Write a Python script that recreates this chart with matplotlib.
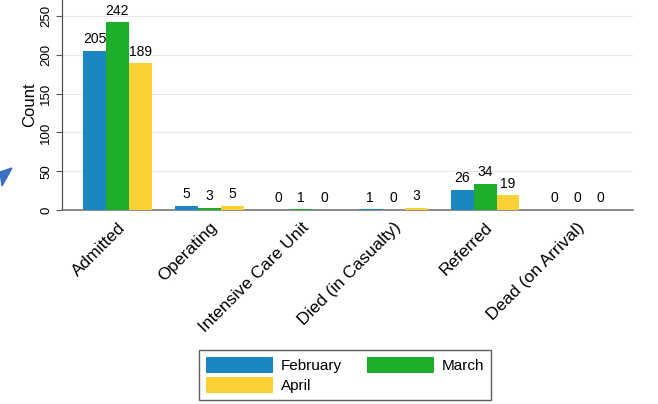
import matplotlib.pyplot as plt
import numpy as np
from matplotlib.patches import Polygon

plt.rcParams['font.family'] = ['Liberation Sans', 'DejaVu Sans']

categories = ["Admitted", "Operating", "Intensive Care Unit",
              "Died (in Casualty)", "Referred", "Dead (on Arrival)"]
february = [205, 5, 0, 1, 26, 0]
march = [242, 3, 1, 0, 34, 0]
april = [189, 5, 0, 3, 19, 0]
series = [("February", february, "#1b87c1"),
          ("March", march, "#1fae2a"),
          ("April", april, "#fdd133")]
yticks = [0, 50, 100, 150, 200, 250]

fig = plt.figure(figsize=(6.58, 4.04), dpi=100)
ax = fig.add_axes([62 / 658, 1 - 210 / 404, 571 / 658, 210 / 404])

x = np.arange(len(categories))
w = 0.25
for i, (name, vals, col) in enumerate(series):
    pos = x + (i - 1) * w
    ax.bar(pos, vals, width=w, color=col, label=name, zorder=3)
    for p, v in zip(pos, vals):
        ax.text(p, v + 6, str(v), ha='center', va='bottom', fontsize=10, zorder=4)

ax.set_xlim(-0.603, 5.61)
ax.set_ylim(0, 270.6)
ax.set_yticks(yticks)
ax.set_yticklabels([str(t) for t in yticks], rotation=90, va='center', fontsize=9.5)
ax.yaxis.grid(True, color='#e8e8e8', linewidth=0.9, zorder=0)
ax.set_ylabel("Count", fontsize=12, labelpad=2)

ax.set_xticks(x)
ax.set_xticklabels(categories, rotation=45, ha='right', rotation_mode='anchor', fontsize=12.5)
ax.tick_params(axis='x', length=0, pad=7)
ax.tick_params(axis='y', length=4, width=0.8, color='#555555', pad=3)

for s in ['top', 'right']:
    ax.spines[s].set_visible(False)
ax.spines['left'].set_color('#444444')
ax.spines['left'].set_linewidth(0.8)
ax.spines['bottom'].set_color('#777777')
ax.spines['bottom'].set_linewidth(1.2)

handles, labels = ax.get_legend_handles_labels()
order = [0, 2, 1]
leg = fig.legend([handles[k] for k in order], [labels[k] for k in order],
                 ncol=2, loc='center',
                 bbox_to_anchor=(345 / 658, 1 - 375 / 404),
                 fontsize=11, frameon=True, fancybox=False, edgecolor='#333333',
                 handlelength=4.4, handleheight=1.2, columnspacing=1.6,
                 handletextpad=0.5, borderpad=0.45, labelspacing=0.25)
leg.get_frame().set_linewidth(1.0)

# small blue marker at left edge of the image
tri = Polygon([[0, 1 - 172 / 404], [12 / 658, 1 - 168 / 404], [2 / 658, 1 - 186 / 404]],
              closed=True, transform=fig.transFigure, color='#3a6fc4')
fig.patches.append(tri)

fig.savefig("out.png", dpi=100)
